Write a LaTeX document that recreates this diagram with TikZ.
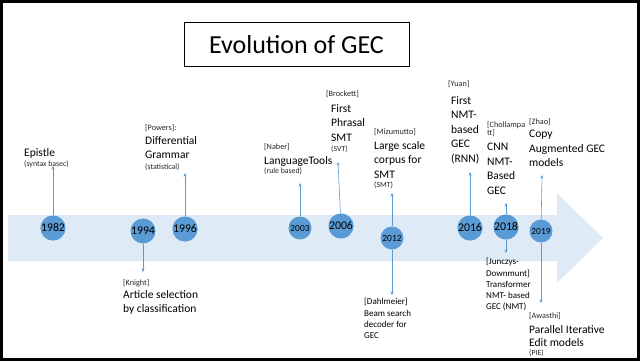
\documentclass[tikz,border=0pt]{standalone}
\usepackage{fontspec}
\setmainfont{Carlito}
\usetikzlibrary{arrows.meta}

\definecolor{bandblue}{HTML}{DEEBF7}
\definecolor{dotblue}{HTML}{5B9BD5}

\tikzset{
  yearbig/.style={circle, fill=dotblue, minimum size=23pt, inner sep=0pt,
    font=\fontsize{11.8}{12}\selectfont},
  yearsmall/.style={yearbig, font=\fontsize{9.4}{10}\selectfont},
  evtext/.style={anchor=north west, inner sep=0pt, align=left,
    font=\fontsize{11.5}{14.5}\selectfont},
  evtag/.style={anchor=north west, inner sep=0pt, align=left,
    font=\fontsize{8.2}{8.5}\selectfont, text=black!85},
  evnote/.style={anchor=north west, inner sep=0pt, align=left,
    font=\fontsize{7.8}{8}\selectfont, text=black!85},
  evsmall/.style={anchor=north west, inner sep=0pt, align=left,
    font=\fontsize{9}{11.3}\selectfont},
  link/.style={draw=dotblue, line width=0.6pt, -{Stealth[length=3.5pt,width=3pt]}},
}

\begin{document}
\begin{tikzpicture}[x=1pt, y=-1pt]
    \useasboundingbox (0,0) rectangle (640,361);
    % cadre
    \draw[line width=3pt] (1.5,1.5) rectangle (638.5,359.5);

    % titre
    \node[draw, line width=1pt, minimum width=225pt, minimum height=44pt,
      font=\fontsize{26}{26}\selectfont] (title) at (296.5,45) {Evolution of GEC};

    % fleche de fond
    \fill[bandblue] (8,215) -- (557,215) -- (557,193) -- (603,238)
      -- (557,283) -- (557,261) -- (8,261) -- cycle;

    % annees
    \node[yearbig]   (y1982) at (53,228)  {1982};
    \node[yearbig]   (y1994) at (143,231) {1994};
    \node[yearbig]   (y1996) at (185,229) {1996};
    \node[yearsmall] (y2003) at (300,228) {2003};
    \node[yearbig]   (y2006) at (341,226) {2006};
    \node[yearsmall] (y2012) at (392,238) {2012};
    \node[yearbig]   (y2016) at (470,228) {2016};
    \node[yearbig]   (y2018) at (506,227) {2018};
    \node[yearsmall] (y2019) at (541,231) {2019};

    % 1982
    \node[evtext] (e1982) at (24,148) {Epistle};
    \node[evnote] (n1982) at (24,161) {(syntax basec)};
    \coordinate (t1982) at (53,166);

    % 1994
    \node[evtag]  (k1994) at (123,279) {[Knight]};
    \node[evtext] (e1994) at (123,290) {Article selection\\by classification};
    \coordinate (t1994) at (143,272);

    % 1996
    \node[evtag]  (k1996) at (145,124) {[Powers]:};
    \node[evtext] (e1996) at (145,136) {Differential\\Grammar};
    \node[evnote] (n1996) at (145,164) {(statistical)};
    \coordinate (t1996) at (185,173);

    % 2003
    \node[evtag]  (k2003) at (264,143) {[Naber]};
    \node[evtext] (e2003) at (264,156) {LanguageTools};
    \node[evnote] (n2003) at (264,168) {(rule based)};
    \coordinate (t2003) at (300,183);

    % 2006
    \node[evtag]  (k2006) at (326,90)  {[Brockett]};
    \node[evtext] (e2006) at (331,104) {First\\Phrasal\\SMT};
    \node[evnote] (n2006) at (331,146) {(SVT)};
    \coordinate (t2006) at (338,162);

    % 2012
    \node[evtag]  (k2012) at (374,128) {[Mizumutto]};
    \node[evtext] (e2012) at (374,141) {Large scale\\corpus for\\SMT};
    \node[evnote] (n2012) at (374,182) {(SMT)};
    \coordinate (t2012) at (392,193);
    \node[evsmall] (d2012) at (364,298) {[Dahlmeier]\\Beam search\\decoder for\\GEC};
    \coordinate (b2012) at (392,295);

    % 2016
    \node[evtag]  (k2016) at (448,80) {[Yuan]};
    \node[evtext] (e2016) at (451,96) {First\\NMT-\\based\\GEC\\(RNN)};
    \coordinate (t2016) at (470,172);

    % 2018
    \node[evtag]  (k2018) at (487,121) {[Chollampa\\tt]};
    \node[evtext] (e2018) at (487,143) {CNN\\NMT-\\Based\\GEC};
    \coordinate (t2018) at (506,203);
    \node[evsmall] (d2018) at (486,258) {[Junczys-\\Downmunt]\\Transformer\\NMT- based\\GEC (NMT)};
    \coordinate (b2018) at (506,253);

    % 2019
    \node[evtag]  (k2019) at (529,118) {[Zhao]};
    \node[evtext] (e2019) at (529,130) {Copy\\Augmented GEC\\models};
    \coordinate (t2019) at (542,175);
    \node[evtag]  (w2019) at (529,312) {[Awasthi]};
    \node[evtext] (a2019) at (529,325) {Parallel Iterative\\[-1.5pt]Edit models};
    \node[evnote] (n2019) at (529,350) {(PIE)};
    \coordinate (b2019) at (541,303);

    % fleches
    \draw[link] (y1982) -- (t1982);
    \draw[link] (y1994) -- (t1994);
    \draw[link] (y1996) -- (t1996);
    \draw[link] (y2003) -- (t2003);
    \draw[link] (y2006) -- (t2006);
    \draw[link] (y2012) -- (t2012);
    \draw[link] (y2012) -- (b2012);
    \draw[link] (y2016) -- (t2016);
    \draw[link] (y2018) -- (t2018);
    \draw[link] (y2018) -- (b2018);
    \draw[link] (y2019) -- (t2019);
    \draw[link] (y2019) -- (b2019);
\end{tikzpicture}
\end{document}
